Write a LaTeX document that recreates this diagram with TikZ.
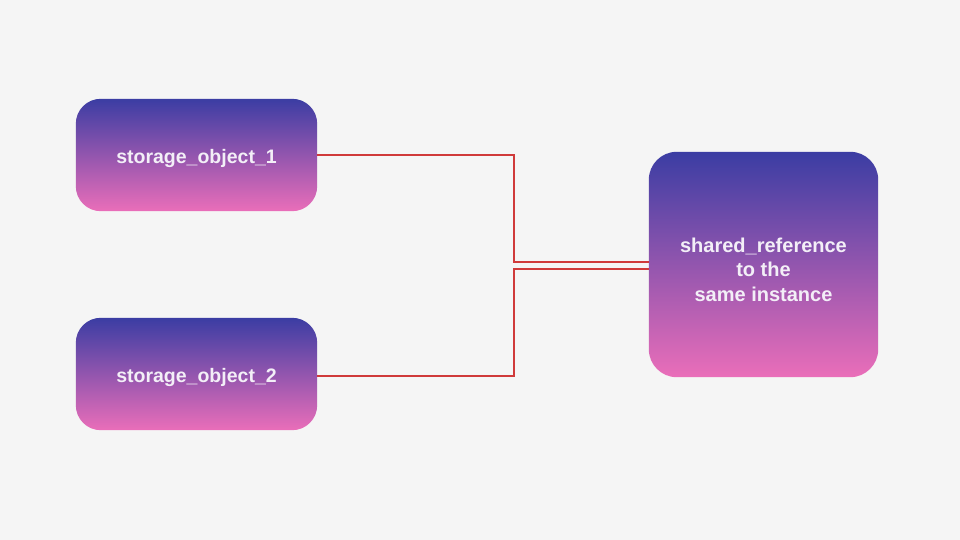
\documentclass[tikz,border=0pt]{standalone}
\usepackage{fontspec}
\setmainfont{Liberation Sans}
\usetikzlibrary{calc,backgrounds}
\definecolor{bg}{HTML}{F5F5F5}
\definecolor{gtop}{HTML}{3B3DA3}
\definecolor{gbot}{HTML}{EA6EB9}
\definecolor{wire}{HTML}{D03A3A}
\definecolor{txt}{HTML}{F3EFF7}
\begin{document}
\begin{tikzpicture}[x=1pt,y=-1pt,
  gbox/.style={rectangle, draw=none, text=txt, font=\bfseries\fontsize{19.5}{24.5}\selectfont,
    align=center, inner sep=0pt, text depth=0pt},
  gshade/.style={top color=gtop, bottom color=gbot, draw=none},
  wireline/.style={draw=wire, line width=1.6pt}]
\useasboundingbox (0,0) rectangle (960,540);
\node[gbox, minimum width=241pt, minimum height=112pt] (b1) at (196.5,155) {\raisebox{-2pt}{storage\_object\_1}};
\node[gbox, minimum width=241pt, minimum height=112pt] (b2) at (196.5,374) {\raisebox{-2pt}{storage\_object\_2}};
\node[gbox, minimum width=229pt, minimum height=225pt] (b3) at (763.5,264.5) {};
\node[gbox, font=\bfseries\fontsize{20}{24.5}\selectfont] (t3) at ($(b3.center)+(0,5)$) {shared\_reference\\to the\\same instance};
\begin{scope}[on background layer]
\fill[bg] (0,0) rectangle (960,540);
\shade[gshade, rounded corners=25pt] (b1.north west) rectangle (b1.south east);
\shade[gshade, rounded corners=25pt] (b2.north west) rectangle (b2.south east);
\shade[gshade, rounded corners=28pt] (b3.north west) rectangle (b3.south east);
\end{scope}
\coordinate (j1) at ($(b1.east)+(197,0)$);
\coordinate (j2) at ($(b2.east)+(197,2)$);
\draw[wireline] (b1.east) -- (j1) |- ($(b3.west)+(0,-2.5)$);
\draw[wireline] ($(b2.east)+(0,2)$) -- (j2) |- ($(b3.west)+(0,4.5)$);
\end{tikzpicture}
\end{document}
